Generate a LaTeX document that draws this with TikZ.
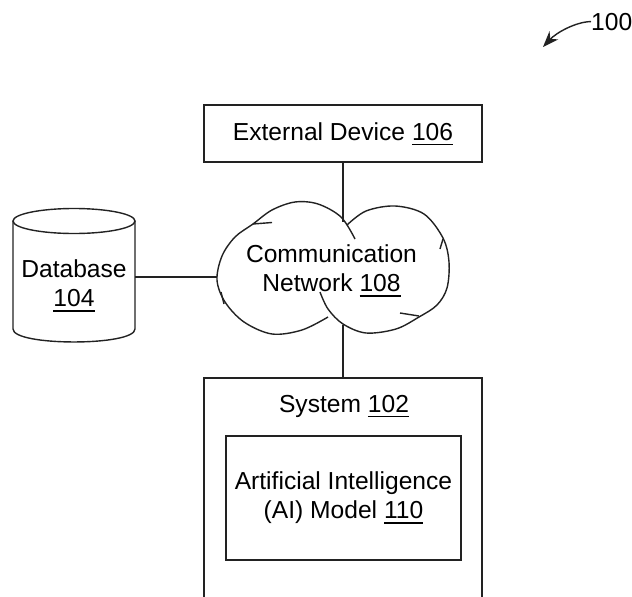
\documentclass[tikz,border=0pt]{standalone}
\usepackage{fontspec}
\setmainfont{Liberation Sans}
\usetikzlibrary{arrows.meta}
\definecolor{ink}{HTML}{222222}
\newsavebox\ulbox
% reference numerals are underlined with a rule of their own width
\newcommand{\refnum}[1]{\sbox\ulbox{#1}\smash{\rlap{\rule[-5pt]{\wd\ulbox}{1.5pt}}}\usebox\ulbox}

\begin{document}
\begin{tikzpicture}[x=1pt,y=-1pt,
  line/.style={draw=ink, line width=1.4pt},
  box/.style={draw=ink, line width=1.5pt, rectangle, inner sep=0pt},
  label/.style={font=\fontsize{24.6}{28.8}\selectfont, text=black, align=center, inner sep=0pt},
]
\useasboundingbox (0,0) rectangle (632,597);

% figure reference arrow
\node[label, anchor=base west] (ref) at (591,30) {100};
\coordinate (reftip) at (543,47);
\draw[line, -{Stealth[length=16pt,width=12pt]}] (ref.west) .. controls (575,22) and (556,33) .. (reftip);

% external device
\node[box, minimum width=278pt, minimum height=57pt] (ext) at (343,133.5) {};
\node[label, anchor=base] (extlabel) at (343,140) {External Device \refnum{106}};

% database cylinder
\draw[line] (74,221) ellipse [x radius=61, y radius=12.5];
\draw[line] (13,221) -- (13,329) .. controls (13,346.3) and (135,346.3) .. (135,329) -- (135,221);
\node[label] (db) at (74,283.6) {Database\\\refnum{104}};
\coordinate (dbR) at (135,277);

% communication network cloud: two overlapping lobes
\draw[line] plot[smooth, tension=0.55] coordinates {
  (355,239) (341,217) (318,204) (295,202) (272,210) (253,224) (235,237)
  (222,256) (217,280) (225,302) (244,322) (272,334) (302,330) (328,317)};
\draw[line] plot[smooth, tension=0.55] coordinates {
  (347,225) (366,211) (395,206) (424,214) (443,238) (449,262)
  (447,288) (437,305) (419,317) (396,329) (366,333) (343,324) (328,309) (320,292)};
% short overshoot ticks of the cloud outline
\draw[line] (253,224) -- (272,222.5);
\draw[line] (221,292) -- (224,304);
\draw[line] (443,239) -- (440,249);
\draw[line] (419,316) -- (400,313);
\node[label] (net) at (331.5,268.6) {Communication\\Network \refnum{108}};
\coordinate (cloudtop) at (343,222);
\coordinate (cloudbot) at (343,325);
\coordinate (cloudL) at (217,277);

% system with its AI model
\node[box, minimum width=278pt, minimum height=250pt, anchor=north] (sys) at (343,377) {};
\node[label, anchor=base] (syslabel) at (344,412) {System \refnum{102}};
\node[box, minimum width=235pt, minimum height=124pt] (ai) at (343.5,498) {};
\node[label] (ailabel) at (343.5,498) {Artificial Intelligence\\(AI) Model \refnum{110}};

% connections
\draw[line] (ext.south) -- (cloudtop);
\draw[line] (cloudbot) -- (sys.north);
\draw[line] (dbR) -- (cloudL);
\end{tikzpicture}
\end{document}
